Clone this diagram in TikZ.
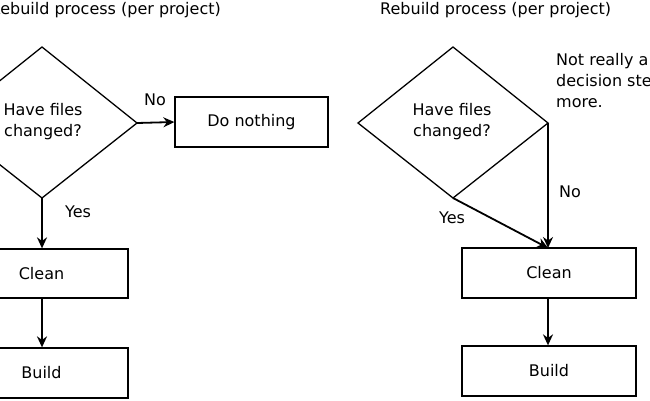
\documentclass[tikz,border=0pt]{standalone}
\usepackage{fontspec}
\setmainfont{DejaVu Sans}
\usetikzlibrary{arrows.meta}
\begin{document}
\begin{tikzpicture}[x=1pt,y=-1pt,
  lbl/.style={font=\fontsize{16}{21}\selectfont},
  box/.style={draw,line width=1.3pt},
  arr/.style={line width=1.8pt,-{Stealth[length=11pt,width=10pt]}}]
\useasboundingbox (0,0) rectangle (650,400);
\clip (0,0) rectangle (650,400);
% left
\node[lbl,anchor=east,inner sep=0pt] (t1) at (221,10) {Rebuild process (per project)};
\draw[box] (42,47) coordinate (d1t) -- (137,123) coordinate (d1r) -- (42,198) coordinate (d1b) -- (-53,123) -- cycle;
\node[lbl,align=center] (d1) at (43,122) {Have files\\changed?};
\node[box,lbl,minimum width=153pt,minimum height=50pt] (dn) at (251.5,122) {Do nothing};
\node[box,lbl,minimum width=173pt,minimum height=49pt] (c1) at (41.5,273.5) {Clean};
\node[box,lbl,minimum width=173pt,minimum height=50pt] (b1) at (41.5,373) {Build};
\draw[arr] (d1r) -- (dn.west);
\node[lbl] (no1) at (155,100) {No};
\draw[arr] (d1b) -- (d1b|-c1.north);
\node[lbl] (yes1) at (78,212) {Yes};
\draw[arr] (c1.south-|d1b) -- (b1.north-|d1b);
% right
\node[lbl,anchor=west,inner sep=0pt] (t2) at (380,10) {Rebuild process (per project)};
\draw[box] (453,47) coordinate (d2t) -- (548,123) coordinate (d2r) -- (453,198) coordinate (d2b) -- (358,123) -- cycle;
\node[lbl,align=center] (d2) at (452,122) {Have files\\changed?};
\node[lbl,align=left,anchor=north west,inner sep=0pt] (note) at (556,53) {Not really a\\decision step any\\more.};
\node[box,lbl,minimum width=174pt,minimum height=50pt] (c2) at (549,273) {Clean};
\node[box,lbl,minimum width=174pt,minimum height=50pt] (b2) at (549,371) {Build};
\coordinate (c2t) at (548,248);
\draw[arr] (d2r) -- (c2t);
\draw[arr] (d2b) -- (c2t);
\node[lbl] (no2) at (570,192) {No};
\node[lbl] (yes2) at (452,218) {Yes};
\draw[arr] (548,298) -- (b2.north-|c2t);
\end{tikzpicture}
\end{document}
